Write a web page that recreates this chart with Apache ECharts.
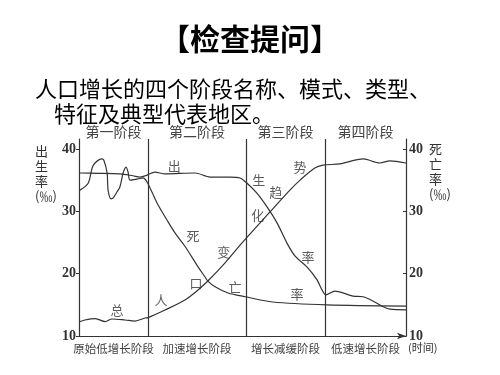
<!DOCTYPE html>
<html><head><meta charset="utf-8">
<script src="https://cdn.jsdelivr.net/npm/echarts@6/dist/echarts.min.js"></script>
<style>html,body{margin:0;padding:0;background:#fff}#c{width:500px;height:375px}</style>
</head><body><div id="c"></div>
<script>
// ---- data ----
const titleText = '【检查提问】';
const questionLine1 = '人口增长的四个阶段名称、模式、类型、';
const questionLine2 = '特征及典型代表地区。';
const yTicks = [10, 20, 30, 40];
const stageBounds = [0, 21.1, 51.1, 75.2, 100];
const stageNames = ['第一阶段', '第二阶段', '第三阶段', '第四阶段'];
const stageTypes = ['原始低增长阶段', '加速增长阶段', '增长减缓阶段', '低速增长阶段'];
const birthRate = [[0,36.15],[6,36.1],[12.5,36.0],[16.5,35.7],[18.7,35.5],[20.8,35.8],[23.2,36.3],[26.3,36.0],[35.5,36.15],[40.1,35.5],[46.2,35.5],[49.2,35.35],[51.4,34.5],[54.4,32.9],[57.5,30.7],[60.6,28.1],[63.6,24.9],[66.1,22.8],[69.7,21.1],[72.8,19.0],[74.3,17.4],[75.5,16.6],[78.3,17.2],[83.8,16.4],[86.9,16.3],[93,14.7],[95.1,14.3],[100,14.2]];
const deathRate = [[0.3,33.4],[2.8,34.5],[4.0,36.9],[4.9,37.75],[7.0,38.4],[7.6,38.2],[8.6,36.15],[8.9,33.4],[9.8,32.0],[10.4,32.1],[11.6,33.1],[12.5,33.9],[13.5,36.15],[14.4,37.1],[15.0,36.3],[15.6,35.0],[18.0,35.2],[19.6,35.35],[20.8,34.7],[22.3,33.1],[24.2,31.0],[26.9,28.6],[29.4,26.5],[32.4,24.4],[36.4,21.1],[38.5,19.5],[39.4,18.8],[41.6,17.9],[45.6,16.9],[50.8,16.3],[59.3,15.45],[75.8,15.0],[100,14.8]];
const totalPop = [[0,12.25],[1.8,12.57],[5,12.8],[8,12.3],[10.1,12.73],[14.1,12.57],[17.1,12.4],[20.2,12.89],[21.1,12.95],[26.3,14.17],[32.4,15.78],[36.4,17.38],[39.4,18.82],[44.6,21.7],[49.8,24.9],[58.4,29.9],[64.5,33.4],[67.6,35.0],[72,36.9],[74.6,37.4],[79.8,37.6],[86.9,38.4],[92,37.75],[95.1,38.1],[100,37.75]];
const curveLabelText = ['出','生','率','死','亡','率','总','人','口','变','化','趋','势'];
const curveLabelX = [29.1,55.0,70.0,34.9,47.7,66.7,11.6,25.1,35.8,44.3,54.7,60.2,67.6];
const curveLabelY = [37.3,35.0,22.7,26.0,17.9,16.7,14.2,15.8,18.5,23.5,29.4,33.1,37.1];
const leftAxisTitle = ['出','生','率','(‰)'];
const rightAxisTitle = ['死','亡','率','(‰)'];
const timeLabel = '(时间)';

// ---- chart ----
const CJK = 'Noto Sans CJK SC';
const ink = '#333';
const chart = echarts.init(document.getElementById('c'));
const lineStyle = {color: ink, width: 1.2};
const topAreas = stageNames.map((n, i) => [{xAxis: stageBounds[i], name: n}, {xAxis: stageBounds[i + 1]}]);
const bottomAreas = stageTypes.map((n, i) => [{xAxis: stageBounds[i], name: n}, {xAxis: stageBounds[i + 1]}]);
const dividers = stageBounds.slice(1, -1).map(v => ({xAxis: v}));
const yAxisCommon = {
  type: 'value', min: yTicks[0], max: 41.6, interval: 10,
  splitLine: {show: false},
  axisLine: {show: true, lineStyle: {color: ink, width: 1.2}},
  axisTick: {show: true, length: 3, lineStyle: {color: ink}},
  axisLabel: {showMaxLabel: false, color: ink, fontFamily: 'Liberation Serif', fontWeight: 'bold', fontSize: 14, margin: 3}
};
chart.setOption({
  animation: false,
  backgroundColor: '#fff',
  title: [
    {text: titleText, left: 'center', top: 19, textStyle: {fontFamily: CJK, fontSize: 30, fontWeight: 'bold', color: '#000'}},
    {text: questionLine1, left: 30, top: 73, textStyle: {fontFamily: CJK, fontSize: 22, fontWeight: 'normal', color: '#000'}},
    {text: questionLine2, left: 49, top: 98, textStyle: {fontFamily: CJK, fontSize: 22, fontWeight: 'normal', color: '#000'}}
  ],
  grid: {left: 79, right: 94, top: 139, bottom: 39},
  xAxis: {
    type: 'value', min: stageBounds[0], max: stageBounds[4],
    splitLine: {show: false}, axisTick: {show: false}, axisLabel: {show: false},
    axisLine: {show: true, onZero: false, symbol: ['none', 'arrow'], symbolSize: [5, 9], lineStyle: {color: ink, width: 1.2}}
  },
  yAxis: [
    Object.assign({}, yAxisCommon, {position: 'left'}),
    Object.assign({}, yAxisCommon, {position: 'right', axisTick: {show: true, inside: true, length: 3, lineStyle: {color: ink}}})
  ],
  graphic: [
    {type: 'text', left: 35, top: 144, style: {text: leftAxisTitle.join('\n'), font: '13px ' + CJK, lineHeight: 15, fill: ink, align: 'center', width: 26}},
    {type: 'text', left: 429, top: 142, style: {text: rightAxisTitle.join('\n'), font: '13px ' + CJK, lineHeight: 15, fill: ink, align: 'center', width: 26}},
    {type: 'text', left: 408, top: 342, style: {text: timeLabel, font: '11px ' + CJK, fill: ink}}
  ],
  series: [
    {name: '出生率', type: 'line', data: birthRate, smooth: 0.3, symbol: 'none', lineStyle: lineStyle, silent: true,
     markArea: {silent: true, itemStyle: {color: 'rgba(0,0,0,0)'},
       label: {show: true, position: 'bottom', distance: 7, color: '#444', fontFamily: CJK, fontSize: 11.5},
       data: bottomAreas}},
    {name: '死亡率', type: 'line', yAxisIndex: 1, data: deathRate, smooth: 0.3, symbol: 'none', lineStyle: lineStyle, silent: true,
     markLine: {silent: true, symbol: ['none', 'none'], label: {show: false}, lineStyle: {color: ink, width: 1.2, type: 'solid'}, data: dividers}},
    {name: '总人口', type: 'line', data: totalPop, smooth: 0.3, symbol: 'none', lineStyle: lineStyle, silent: true,
     markArea: {silent: true, itemStyle: {color: 'rgba(0,0,0,0)'},
       label: {show: true, position: 'top', distance: 0, color: '#444', fontFamily: CJK, fontSize: 14},
       data: topAreas}},
    {name: 'labels', type: 'scatter', symbolSize: 0, silent: true,
     data: curveLabelX.map((x, i) => [x, curveLabelY[i], curveLabelText[i]]),
     label: {show: true, position: 'inside', formatter: p => p.value[2], color: ink, fontFamily: CJK, fontSize: 13}}
  ]
});
</script></body></html>
